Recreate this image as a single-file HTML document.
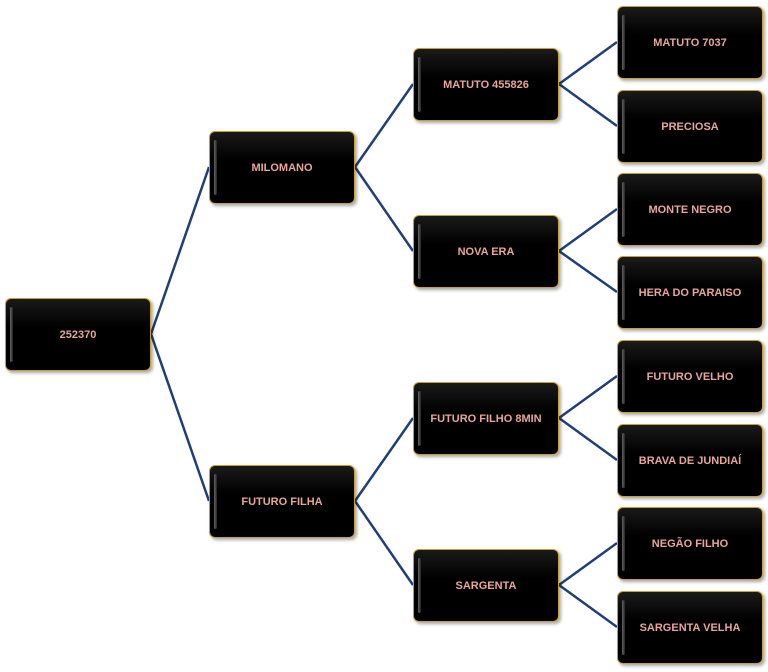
<!DOCTYPE html>
<html><head><style>
body{margin:0;width:768px;height:672px;background:#fff;position:relative;overflow:hidden;font-family:"Liberation Sans",sans-serif}
.n{position:absolute;width:144px;height:71px;background:linear-gradient(#1a1a1a,#000 40%,#000);border:1px solid #c9a030;border-radius:6px;box-shadow:2px 2px 3px rgba(0,0,0,.35);color:#e8a59a;font-weight:bold;font-size:11px;display:flex;align-items:center;justify-content:center}
.n:before{content:"";position:absolute;left:4px;top:8px;width:3px;height:55px;background:linear-gradient(90deg,#666,#222);border-radius:2px}
svg{position:absolute;left:0;top:0}
</style></head><body>
<svg width="768" height="672"><g stroke="#1f3f7a" stroke-width="2.5" fill="none">
<path d="M151 334L209 167M151 334L209 501"/>
<path d="M355 167L413 84M355 167L413 251M355 501L413 418M355 501L413 585"/>
<path d="M559 84L617 42M559 84L617 126M559 251L617 209M559 251L617 292M559 418L617 376M559 418L617 460M559 585L617 543M559 585L617 627"/>
</g></svg>
<div class="n" style="left:5px;top:298px">252370</div>
<div class="n" style="left:209px;top:131px">MILOMANO</div>
<div class="n" style="left:209px;top:465px">FUTURO FILHA</div>
<div class="n" style="left:413px;top:48px">MATUTO 455826</div>
<div class="n" style="left:413px;top:215px">NOVA ERA</div>
<div class="n" style="left:413px;top:382px">FUTURO FILHO 8MIN</div>
<div class="n" style="left:413px;top:549px">SARGENTA</div>
<div class="n" style="left:617px;top:6px">MATUTO 7037</div>
<div class="n" style="left:617px;top:90px">PRECIOSA</div>
<div class="n" style="left:617px;top:173px">MONTE NEGRO</div>
<div class="n" style="left:617px;top:256px">HERA DO PARAISO</div>
<div class="n" style="left:617px;top:340px">FUTURO VELHO</div>
<div class="n" style="left:617px;top:424px">BRAVA DE JUNDIAÍ</div>
<div class="n" style="left:617px;top:507px">NEGÃO FILHO</div>
<div class="n" style="left:617px;top:591px">SARGENTA VELHA</div>
</body></html>
